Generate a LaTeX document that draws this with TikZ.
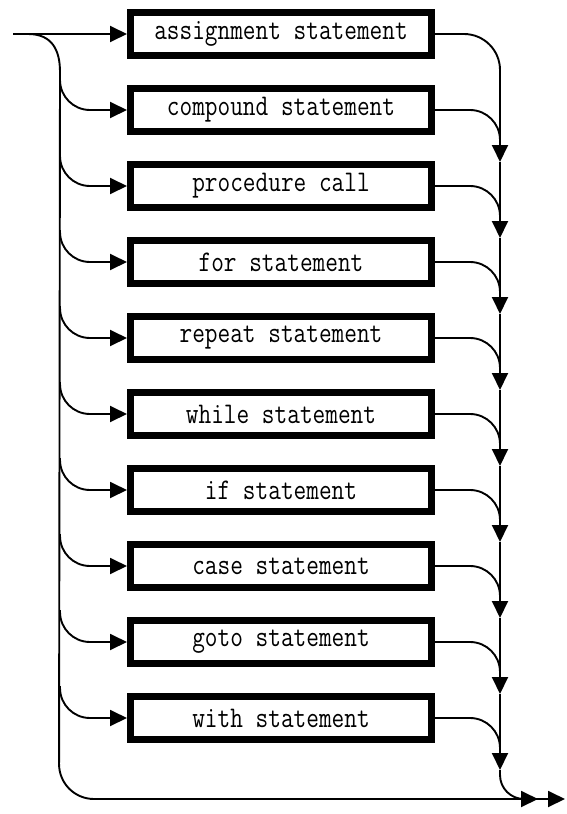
\documentclass[tikz,border=0pt]{standalone}
\usetikzlibrary{arrows.meta}
\newcommand{\stmttext}[1]{\scalebox{0.82}[1]{#1}}
\begin{document}
\begin{tikzpicture}[x=1pt,y=-1pt,
  stmt/.style={draw, line width=7pt, minimum width=301pt, minimum height=43pt, inner sep=0pt,
    font=\fontsize{30}{33}\selectfont\ttfamily},
  conn/.style={line width=1.9pt},
  tip/.style={-{Triangle[length=17pt,width=16pt]}}]
\useasboundingbox (0,0) rectangle (566,814);
\foreach \t [count=\i from 0] in {assignment statement, compound statement, procedure call,
  for statement, repeat statement, while statement, if statement, case statement,
  goto statement, with statement} {
  \node[stmt] (b\i) at (281, {34+76*\i}) {\stmttext{\t}};
  \coordinate (m\i) at (500, {34+76*\i+35});
  \coordinate (t\i) at (500, {34+76*\i+52});
}
% entry
\coordinate (start) at (13,34);
\coordinate (split) at (28,34);
\coordinate (lt) at (60,72);
\coordinate (lb) at (59,799);
\coordinate (j) at (538,799);
\coordinate (end) at (565,799);
\draw[conn,tip] (start) -- (b0.west);
\draw[conn] (split) .. controls (52,34) and (60,50) .. (lt);
\draw[conn,rounded corners=35pt] (lt) -- (lb) -- (j);
\draw[conn,tip] (lb) ++(40,0) -- (j);
\draw[conn,tip] (j) -- (end);
% left branches
\foreach \i in {1,...,9} {
  \draw[conn,tip,rounded corners=30pt] (60,{34+76*\i-32}) |- (b\i.west);
}
% right side
\draw[conn,rounded corners=36pt] (b0.east) -| (m1);
\foreach \i in {1,...,9} {
  \draw[conn,rounded corners=30pt] (b\i.east) -| (m\i);
  \draw[conn,tip] (m\i) -- (t\i);
}
\foreach \i [evaluate=\i as \n using int(\i+1)] in {1,...,8} {
  \draw[conn] (t\i) -- (m\n);
}
\draw[conn,rounded corners=24pt] (t9) -- (500,799) -- (j);
\end{tikzpicture}
\end{document}
